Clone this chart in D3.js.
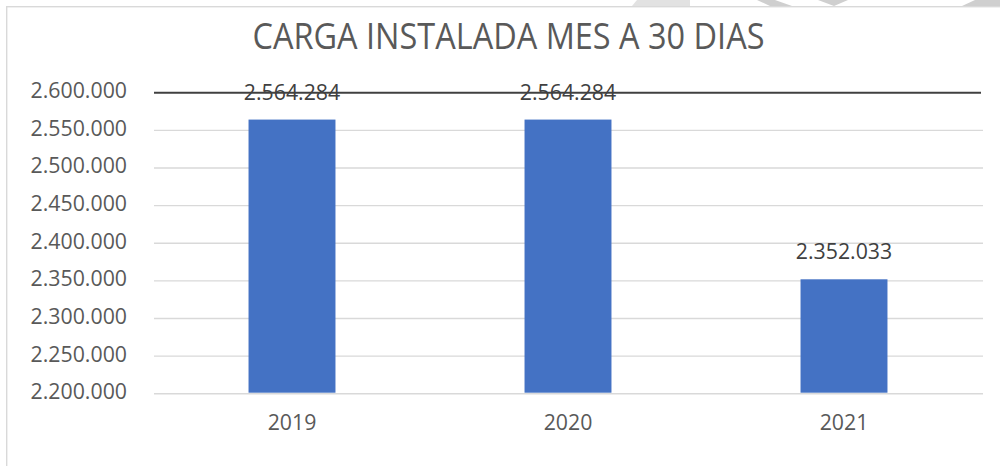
<!DOCTYPE html>
<html>
<head>
<meta charset="utf-8">
<script src="https://cdn.jsdelivr.net/npm/d3@7"></script>
<style>
  html, body { margin: 0; padding: 0; background: #fff; }
  svg { display: block; }
  text { font-family: "Open Sans", "Noto Sans", sans-serif; }
</style>
</head>
<body>
<svg id="chart" width="1000" height="466"></svg>
<script>
const title = "CARGA INSTALADA MES A 30 DIAS";
const categories = ["2019", "2020", "2021"];
const values = [2564284, 2564284, 2352033];
const yTicks = [2200000, 2250000, 2300000, 2350000, 2400000, 2450000, 2500000, 2550000, 2600000];
const yDomain = [2200000, 2600000];

const svg = d3.select("#chart");
const W = 1000, H = 466;
const plot = { left: 154, right: 982, top: 92.7, bottom: 393.7 };

const fmt = v => d3.format(",")(v).replace(/,/g, ".");

// background decoration (faint shapes behind the chart frame at top)
const deco = svg.append("g").attr("fill", "#cfcfcf");
deco.append("polygon").attr("points", "637,0 690,0 690,6 632,6").attr("fill", "#e2e2e2");
deco.append("polygon").attr("points", "757,0 775,0 792,6 770,6");
deco.append("polygon").attr("points", "818,0 848,0 834,6");
deco.append("polygon").attr("points", "975,0 1000,0 1000,6 962,6");

// chart frame
svg.append("rect").attr("x", 6.7).attr("y", 6.7).attr("width", 1100).attr("height", 600)
  .attr("fill", "#fff").attr("stroke", "#d9d9d9").attr("stroke-width", 1.4);

const x = d3.scaleBand().domain(categories).range([plot.left, plot.right]).paddingInner(0).paddingOuter(0);
const y = d3.scaleLinear().domain(yDomain).range([plot.bottom, plot.top]);
const barW = x.bandwidth() * 0.315;

// gridlines
svg.append("g").selectAll("line").data(yTicks.filter(t => t !== yDomain[1])).join("line")
  .attr("x1", plot.left).attr("x2", plot.right + 1)
  .attr("y1", d => y(d)).attr("y2", d => y(d))
  .attr("stroke", "#d9d9d9").attr("stroke-width", 1.4);

// y axis labels
const yAxis = d3.axisLeft(y).tickValues(yTicks).tickFormat(fmt).tickSize(0).tickPadding(0);
const ya = svg.append("g").attr("transform", "translate(127,0)").call(yAxis);
ya.select(".domain").remove();
ya.selectAll("text").attr("font-size", 21.3).attr("fill", "#595959")
  .attr("font-family", "'Open Sans', 'Noto Sans', sans-serif")
  .attr("dy", null).attr("y", 5).attr("dominant-baseline", "auto");

// bars
svg.append("g").selectAll("rect").data(values).join("rect")
  .attr("x", (d, i) => x(categories[i]) + x.bandwidth() / 2 - barW / 2)
  .attr("width", barW)
  .attr("y", d => y(d))
  .attr("height", d => y(yDomain[0]) - y(d) - 1)
  .attr("fill", "#4472C4");

// top dark line at max
svg.append("line").attr("x1", plot.left).attr("x2", plot.right - 1)
  .attr("y1", y(yDomain[1])).attr("y2", y(yDomain[1]))
  .attr("stroke", "#404040").attr("stroke-width", 2);

// data labels
svg.append("g").selectAll("text").data(values).join("text")
  .attr("x", (d, i) => x(categories[i]) + x.bandwidth() / 2)
  .attr("y", d => y(d) - 20)
  .attr("text-anchor", "middle")
  .attr("font-size", 21.3).attr("fill", "#404040")
  .text(d => fmt(d));

// x axis labels
const xAxis = d3.axisBottom(x).tickSize(0).tickPadding(0);
const xa = svg.append("g").attr("transform", `translate(0,${plot.bottom})`).call(xAxis);
xa.select(".domain").remove();
xa.selectAll("text").attr("font-size", 21.3).attr("fill", "#595959")
  .attr("font-family", "'Open Sans', 'Noto Sans', sans-serif")
  .attr("dy", null).attr("y", 36.5);

// title
svg.append("text").attr("x", 508.5).attr("y", 49.3).attr("text-anchor", "middle")
  .attr("font-size", 36).attr("fill", "#595959")
  .attr("textLength", 512).attr("lengthAdjust", "spacingAndGlyphs")
  .text(title);
</script>
</body>
</html>
